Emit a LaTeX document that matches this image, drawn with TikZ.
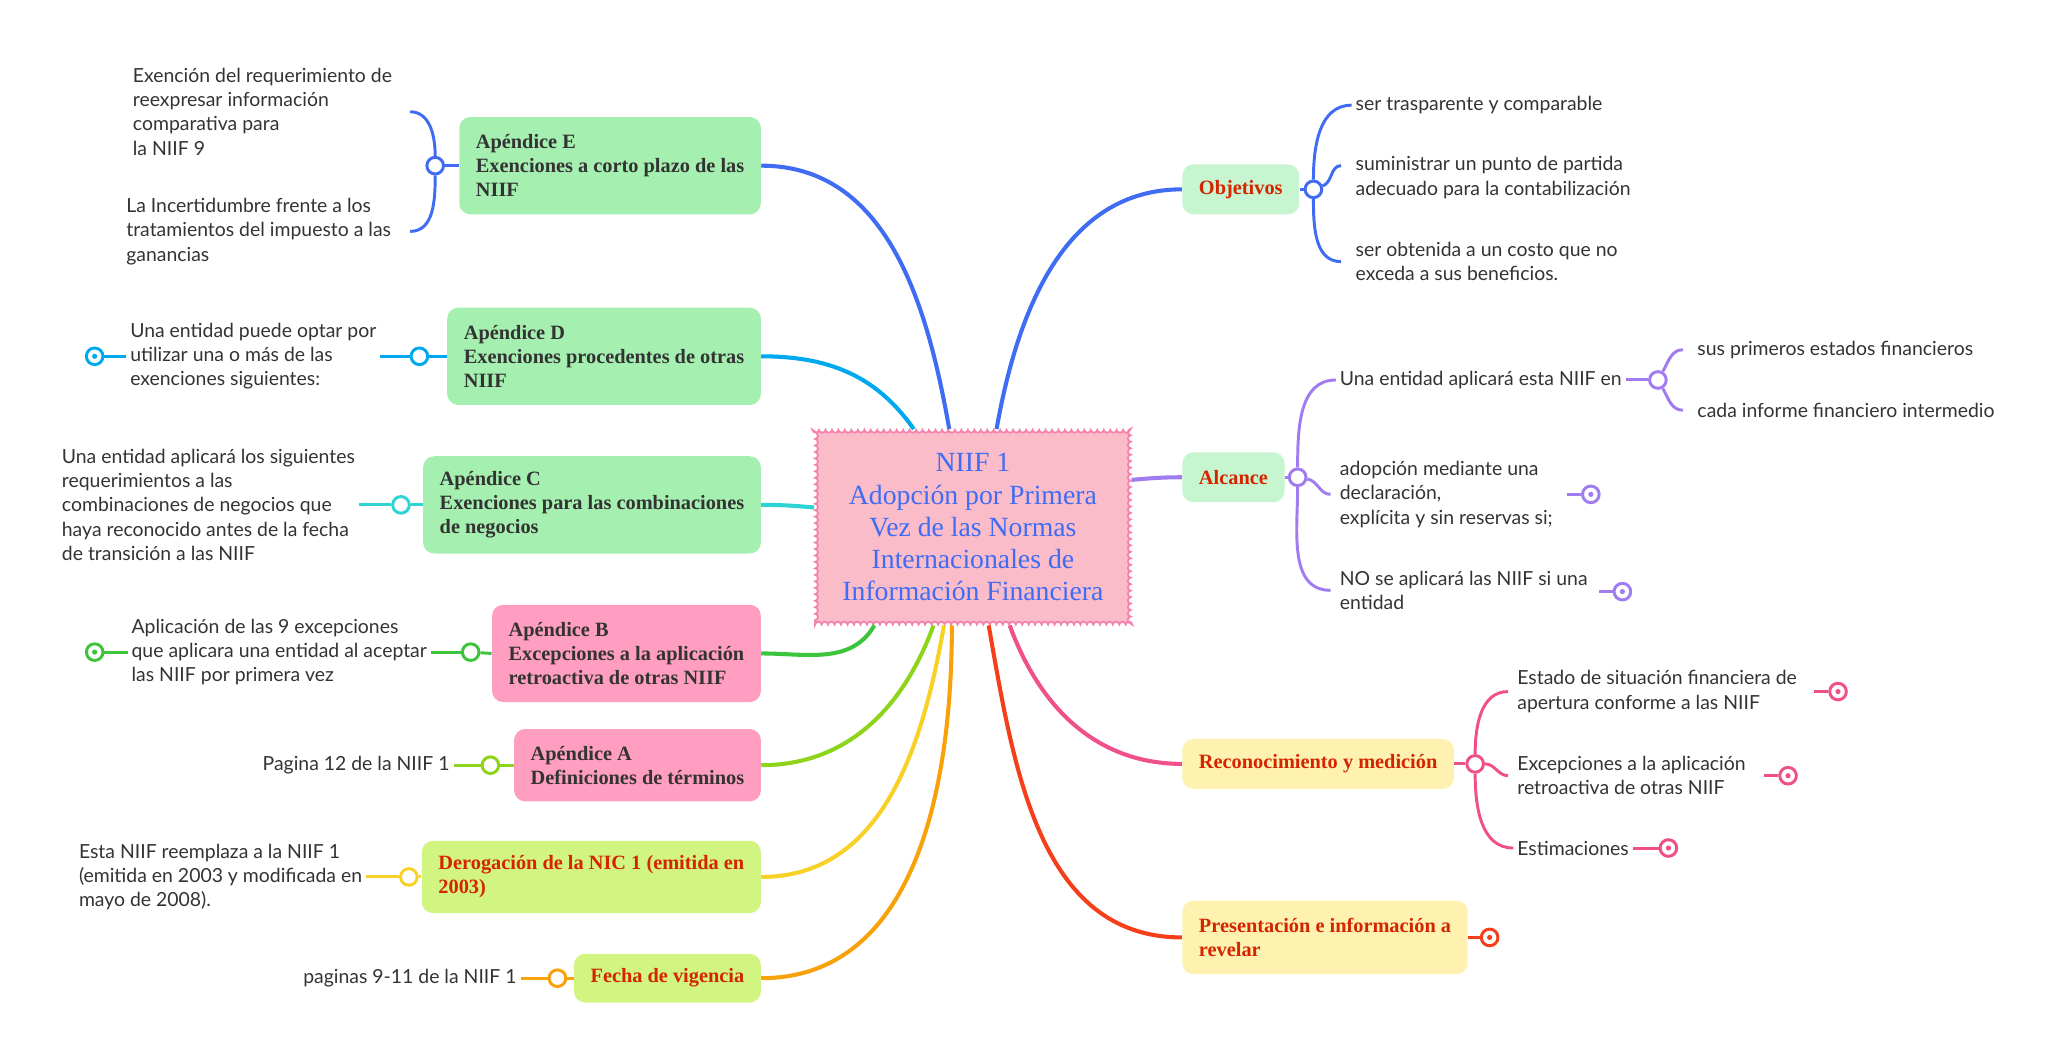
\documentclass[tikz,border=0pt]{standalone}
\usepackage{fontspec}
\setmainfont{Liberation Serif}
\newfontfamily\bodyfont{Lato}
\usetikzlibrary{decorations.pathmorphing}
\definecolor{cE}{HTML}{3F6CF2}
\definecolor{cD}{HTML}{00A8F0}
\definecolor{cC}{HTML}{2ED3D3}
\definecolor{cB}{HTML}{3CC43C}
\definecolor{cA}{HTML}{8ED41A}
\definecolor{cDer}{HTML}{F7D125}
\definecolor{cF}{HTML}{F7A20A}
\definecolor{cAl}{HTML}{A07CF0}
\definecolor{cR}{HTML}{F0508A}
\definecolor{cP}{HTML}{F53E1A}
\definecolor{fgreen}{HTML}{A5EFB0}
\definecolor{fpink}{HTML}{FF9EC0}
\definecolor{flime}{HTML}{D2F582}
\definecolor{fmint}{HTML}{C6F5CF}
\definecolor{fyellow}{HTML}{FFF2B0}
\definecolor{tred}{HTML}{D42400}
\definecolor{ttext}{HTML}{333333}
\tikzset{
  branch/.style={rounded corners=6pt,inner xsep=9pt,inner ysep=5pt,align=left,
    font=\bfseries\fontsize{11}{13.1}\selectfont,text=ttext},
  topic/.style={branch,text=tred},
  leaf/.style={align=left,font=\bodyfont\fontsize{10.5}{13.1}\selectfont,text=ttext,inner sep=2pt},
  knob/.style={circle,draw=#1,line width=1.6pt,fill=white,minimum size=9pt,inner sep=0pt},
  endknob/.style={knob=#1,path picture={\fill[#1] (path picture bounding box.center) circle (1.4pt);}},
  link/.style={line width=2.2pt,#1},
  twig/.style={line width=1.6pt,#1}
}
\begin{document}
\begin{tikzpicture}[x=0.025cm,y=-0.025cm]
\useasboundingbox (0,0) rectangle (1560,798);
% centre
\node[draw=cR!70,fill=magenta!25!pink!60,line width=1pt,decorate,
  decoration={bumps,segment length=7pt,amplitude=1.5pt},
  minimum width=240*0.025cm,minimum height=148*0.025cm,align=center,
  text=cE,font=\fontsize{15}{17.4}\selectfont] (root) at (740,401)
  {NIIF 1\\Adopción por Primera\\Vez de las Normas\\Internacionales de\\Información Financiera};
% left branches
\node[branch,fill=fgreen,anchor=east,minimum height=74*0.025cm] (apE) at (579,126)
  {Apéndice E\\Exenciones a corto plazo de las\\NIIF};
\node[branch,fill=fgreen,anchor=east,minimum height=74*0.025cm] (apD) at (579,271)
  {Apéndice D\\Exenciones procedentes de otras\\NIIF};
\node[branch,fill=fgreen,anchor=east,minimum height=74*0.025cm] (apC) at (579,384)
  {Apéndice C\\Exenciones para las combinaciones\\de negocios};
\node[branch,fill=fpink,anchor=east,minimum height=74*0.025cm] (apB) at (579,497)
  {Apéndice B\\Excepciones a la aplicación\\retroactiva de otras NIIF};
\node[branch,fill=fpink,anchor=east,minimum height=55*0.025cm] (apA) at (579,582)
  {Apéndice A\\Definiciones de términos};
\node[topic,fill=flime,anchor=east,minimum height=55*0.025cm] (derog) at (579,667)
  {Derogación de la NIC 1 (emitida en\\2003)};
\node[topic,fill=flime,anchor=east,minimum height=37*0.025cm] (fecha) at (579,744)
  {Fecha de vigencia};
% right branches
\node[topic,fill=fmint,anchor=west,minimum height=38*0.025cm] (obj) at (899,144) {Objetivos};
\node[topic,fill=fmint,anchor=west,minimum height=38*0.025cm] (alc) at (899,363) {Alcance};
\node[topic,fill=fyellow,anchor=west,minimum height=38*0.025cm] (rec) at (899,581) {Reconocimiento y medición};
\node[topic,fill=fyellow,anchor=west,minimum height=56*0.025cm] (pres) at (899,713)
  {Presentación e información a\\revelar};
% main links
\draw[link=cE] (root.north -| 722,0) to[out=100,in=0] (apE.east);
\draw[link=cD] (root.north -| 695,0) to[out=125,in=0] (apD.east);
\draw[link=cC] (root.west |- 0,386) to[out=175,in=0] (apC.east);
\draw[link=cB] (root.south -| 665,0) to[out=-120,in=0] (apB.east);
\draw[link=cA] (root.south -| 710,0) to[out=-110,in=0] (apA.east);
\draw[link=cDer] (root.south -| 718,0) to[out=-100,in=0] (derog.east);
\draw[link=cF] (root.south -| 724,0) to[out=-90,in=0] (fecha.east);
\draw[link=cE] (root.north -| 758,0) to[out=80,in=180] (obj.west);
\draw[link=cAl] (root.east |- 0,365) to[out=5,in=180] (alc.west);
\draw[link=cR] (root.south -| 768,0) to[out=-70,in=180] (rec.west);
\draw[link=cP] (root.south -| 752,0) to[out=-80,in=180] (pres.west);
% Apendice E
\node[knob=cE] (kE) at (331,126) {};
\draw[twig=cE] (apE.west) -- (kE);
\node[leaf,anchor=west] (e1) at (98,85) {Exención del requerimiento de\\reexpresar información\\comparativa para\\la NIIF 9};
\node[leaf,anchor=west] (e2) at (93,176) {La Incertidumbre frente a los\\tratamientos del impuesto a las\\ganancias};
\draw[twig=cE] (kE) to[out=90,in=0] (312,85);
\draw[twig=cE] (kE) to[out=-90,in=0] (312,176);
% Apendice D
\node[knob=cD] (kD) at (319,271) {};
\draw[twig=cD] (apD.west) -- (kD);
\node[leaf,anchor=west] (d1) at (96,271) {Una entidad puede optar por\\utilizar una o más de las\\exenciones siguientes:};
\draw[twig=cD] (kD) -- (d1.east);
\node[endknob=cD] (eD) at (72,271) {};
\draw[twig=cD] (d1.west) -- (eD);
% Apendice C
\node[knob=cC] (kC) at (305,384) {};
\draw[twig=cC] (apC.west) -- (kC);
\node[leaf,anchor=west] (c1) at (44,384) {Una entidad aplicará los siguientes\\requerimientos a las\\combinaciones de negocios que\\haya reconocido antes de la fecha\\de transición a las NIIF};
\draw[twig=cC] (kC) -- (c1.east);
% Apendice B
\node[knob=cB] (kB) at (358,496) {};
\draw[twig=cB] (apB.west) -- (kB);
\node[leaf,anchor=west] (b1) at (97,496) {Aplicación de las 9 excepciones\\que aplicara una entidad al aceptar\\las NIIF por primera vez};
\draw[twig=cB] (kB) -- (b1.east);
\node[endknob=cB] (eB) at (72,496) {};
\draw[twig=cB] (b1.west) -- (eB);
% Apendice A
\node[knob=cA] (kA) at (373,582) {};
\draw[twig=cA] (apA.west) -- (kA);
\node[leaf,anchor=east] (a1) at (345,582) {Pagina 12 de la NIIF 1};
\draw[twig=cA] (kA) -- (a1.east);
% Derogacion
\node[knob=cDer] (kDer) at (311,667) {};
\draw[twig=cDer] (derog.west) -- (kDer);
\node[leaf,anchor=west] (der1) at (57,667) {Esta NIIF reemplaza a la NIIF 1\\(emitida en 2003 y modificada en\\mayo de 2008).};
\draw[twig=cDer] (kDer) -- (der1.east);
% Fecha
\node[knob=cF] (kF) at (424,744) {};
\draw[twig=cF] (fecha.west) -- (kF);
\node[leaf,anchor=east] (f1) at (396,744) {paginas 9-11 de la NIIF 1};
\draw[twig=cF] (kF) -- (f1.east);
% Objetivos
\node[knob=cE] (kO) at (999,144) {};
\draw[twig=cE] (obj.east) -- (kO);
\node[leaf,anchor=west] (o1) at (1028,80) {ser trasparente y comparable};
\node[leaf,anchor=west] (o2) at (1028,135) {suministrar un punto de partida\\adecuado para la contabilización};
\node[leaf,anchor=west] (o3) at (1028,199) {ser obtenida a un costo que no\\exceda a sus beneficios.};
\draw[twig=cE] (kO) to[out=90,in=180] (o1.west);
\draw[twig=cE] (kO) to[out=20,in=180] (1020,126);
\draw[twig=cE] (kO) to[out=-90,in=180] (1020,199);
% Alcance
\node[knob=cAl] (kAl) at (987,363) {};
\draw[twig=cAl] (alc.east) -- (kAl);
\node[leaf,anchor=west] (al1) at (1016,289) {Una entidad aplicará esta NIIF en};
\node[leaf,anchor=west] (al2) at (1016,376) {adopción mediante una\\declaración,\\explícita y sin reservas si;};
\node[leaf,anchor=west] (al3) at (1016,449) {NO se aplicará las NIIF si una\\entidad};
\draw[twig=cAl] (kAl) to[out=90,in=180] (al1.west);
\draw[twig=cAl] (kAl) to[out=-10,in=180] (1012,376);
\draw[twig=cAl] (kAl) to[out=-90,in=180] (1012,449);
\node[knob=cAl] (kAl1) at (1261,289) {};
\draw[twig=cAl] (al1.east) -- (kAl1);
\node[leaf,anchor=west] (s1) at (1288,266) {sus primeros estados financieros};
\node[leaf,anchor=west] (s2) at (1288,312) {cada informe financiero intermedio};
\draw[twig=cAl] (kAl1) to[out=60,in=180] (1280,266);
\draw[twig=cAl] (kAl1) to[out=-60,in=180] (1280,312);
\node[endknob=cAl] (eAl2) at (1210,376) {};
\draw[twig=cAl] (1192,376) -- (eAl2);
\node[endknob=cAl] (eAl3) at (1234,450) {};
\draw[twig=cAl] (1216,450) -- (eAl3);
% Reconocimiento
\node[knob=cR] (kR) at (1122,581) {};
\draw[twig=cR] (rec.east) -- (kR);
\node[leaf,anchor=west] (r1) at (1151,526) {Estado de situación financiera de\\apertura conforme a las NIIF};
\node[leaf,anchor=west] (r2) at (1151,590) {Excepciones a la aplicación\\retroactiva de otras NIIF};
\node[leaf,anchor=west] (r3) at (1151,645) {Estimaciones};
\draw[twig=cR] (kR) to[out=90,in=180] (1147,526);
\draw[twig=cR] (kR) to[out=0,in=180] (1147,590);
\draw[twig=cR] (kR) to[out=-90,in=180] (r3.west);
\node[endknob=cR] (eR1) at (1398,526) {};
\draw[twig=cR] (1380,526) -- (eR1);
\node[endknob=cR] (eR2) at (1360,590) {};
\draw[twig=cR] (1342,590) -- (eR2);
\node[endknob=cR] (eR3) at (1269,645) {};
\draw[twig=cR] (r3.east) -- (eR3);
% Presentacion
\node[endknob=cP] (eP) at (1133,713) {};
\draw[twig=cP] (pres.east) -- (eP);
\end{tikzpicture}
\end{document}
